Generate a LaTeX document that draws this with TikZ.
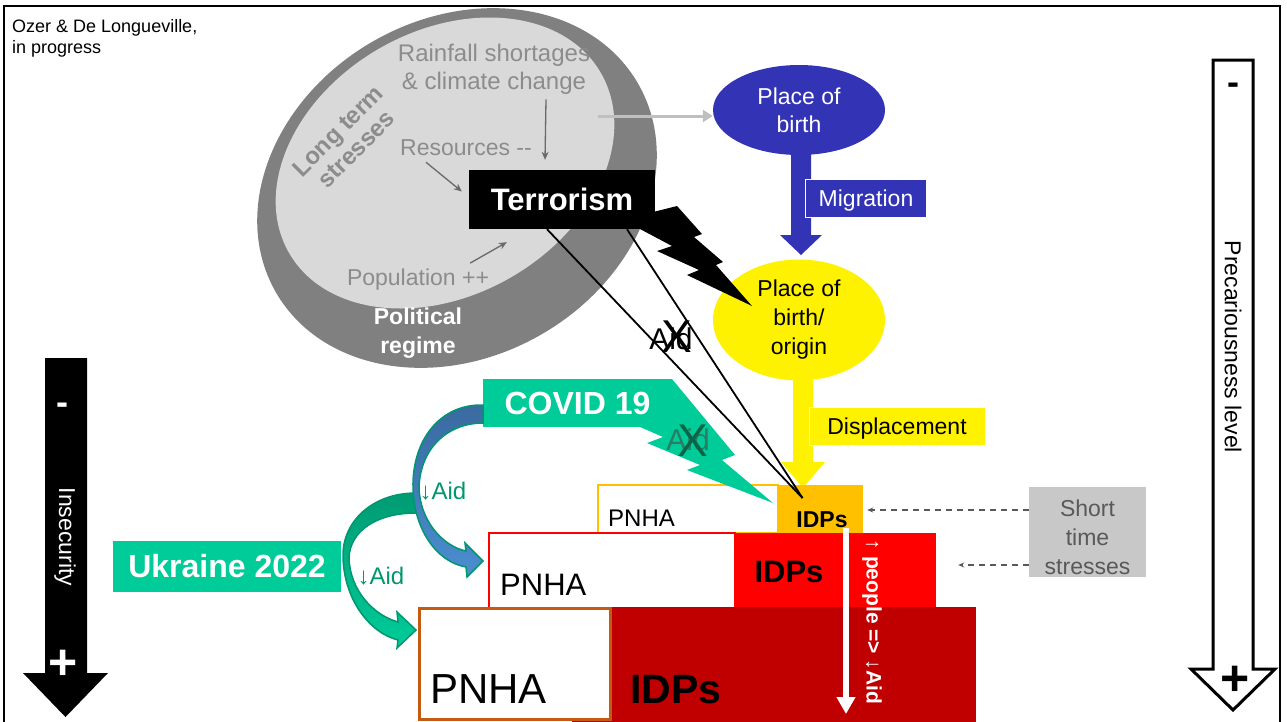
\documentclass[tikz,border=0pt]{standalone}
\usepackage{fontspec}
\setmainfont{Liberation Sans}
\usetikzlibrary{positioning,arrows.meta,shapes.geometric}

\definecolor{outergray}{RGB}{128,128,128}
\definecolor{innergray}{RGB}{217,217,217}
\definecolor{txtgray}{RGB}{140,140,140}
\definecolor{stressgray}{RGB}{105,105,105}
\definecolor{arrowgray}{RGB}{191,191,191}
\definecolor{birthblue}{RGB}{51,51,181}
\definecolor{idporange}{RGB}{255,192,0}
\definecolor{idpred}{RGB}{255,0,0}
\definecolor{idpdark}{RGB}{192,0,0}
\definecolor{pnhabrown}{RGB}{197,90,17}
\definecolor{covidgreen}{RGB}{0,204,153}
\definecolor{aidgreen}{RGB}{0,150,110}
\definecolor{aidtext}{RGB}{40,125,98}
\definecolor{crossgreen}{RGB}{10,100,72}
\definecolor{curveblue}{RGB}{74,142,208}
\definecolor{curvedblue}{RGB}{58,106,160}
\definecolor{curvedgreen}{RGB}{0,155,115}
\definecolor{shortgray}{RGB}{200,200,200}
\definecolor{shorttxt}{RGB}{89,89,89}

\begin{document}
\begin{tikzpicture}[
    x=1pt, y=-1pt,
    every node/.style={inner sep=0pt},
    txt/.style={font=\fontsize{23}{28}\selectfont, align=center},
    boldtxt/.style={font=\bfseries\fontsize{31}{35}\selectfont, text=white},
    stressarrow/.style={-{Stealth[length=8pt,width=7pt]}, stressgray, line width=1.3pt},
    dasharrow/.style={-{Stealth[length=6pt,width=5pt]}, shorttxt, line width=1.3pt, dash pattern=on 6pt off 5pt},
    curvearrow/.style={line width=1.5pt, draw=aidgreen},
    crossx/.style={font=\fontsize{46}{50}\selectfont}
]
\useasboundingbox (0,0) rectangle (1287,721);

% === Long term stresses ===
\fill[outergray, shift={(457,188)}, rotate=30] (0,0) ellipse (209 and 169);
\fill[innergray, shift={(445,163)}, rotate=30] (0,0) ellipse (180 and 132);

\node[txt, text=txtgray, font=\fontsize{24}{28}\selectfont] (rain) at (494,69) {Rainfall shortages\\\& climate change};
\node[txt, text=txtgray] (res) at (466,148) {Resources {-}{-}};
\node[txt, text=txtgray] (pop) at (418,280) {Population ++};
\node[txt, text=txtgray, font=\bfseries\fontsize{24}{26}\selectfont, rotate=45] (longterm) at (347,140) {Long term\\stresses};
\node[txt, text=white, font=\bfseries\fontsize{23}{29}\selectfont] (regime) at (418,333) {Political\\regime};

% Terrorism
\node[fill=black, boldtxt, minimum width=186pt, minimum height=59pt] (terror) at (562,199.5) {Terrorism};

\draw[stressarrow] ([xshift=52pt,yshift=-5pt]rain.south) -- ([xshift=-17pt,yshift=10pt]terror.north);
\draw[stressarrow] ([xshift=26pt,yshift=-6pt]res.south west) -- ([xshift=-7pt,yshift=8pt]terror.west);
\draw[stressarrow] ([xshift=-19pt,yshift=6pt]pop.north east) -- ([xshift=38pt,yshift=-13pt]terror.south west);

% === Migration ===
\fill[birthblue] (791,150) -- (791,235) -- (780,235) -- (801,255) -- (822,235) -- (811,235) -- (811,150) -- cycle;
\node[ellipse, fill=birthblue, minimum width=172pt, minimum height=90pt, txt, text=white] (birth) at (799,110) {Place of\\birth};
\node[fill=birthblue, draw=white, line width=0.8pt, txt, text=white, text depth=0pt, minimum width=121pt, minimum height=38pt] (migr) at (866,198) {Migration};

\coordinate (graystart) at (598,116);
\draw[-{Triangle[length=10pt,width=12pt]}, line width=3pt, arrowgray] (graystart) -- (graystart -| birth.west);

% === Displacement ===
\fill[yellow] (793,370) -- (793,462) -- (781,462) -- (803,488) -- (825,462) -- (813,462) -- (813,370) -- cycle;
\node[ellipse, fill=yellow, minimum width=172pt, minimum height=121pt, txt, font=\fontsize{23}{29}\selectfont] (origin) at (799,320) {Place of\\birth/\\origin};
\node[fill=yellow, draw=white, line width=0.8pt, txt, text depth=0pt, minimum width=176pt, minimum height=38pt] (displ) at (897,426) {Displacement};

% === PNHA / IDPs levels ===
\node[draw=idporange, line width=2pt, fill=white, minimum width=180pt, minimum height=48pt] (pnha1) at (688,509) {};
\node[anchor=base west, font=\fontsize{24}{28}\selectfont] (pnha1txt) at (608,526) {PNHA};
\node[fill=idporange, minimum width=85pt, minimum height=48pt] (idps1) at (820.5,509) {};
\node[anchor=base, font=\bfseries\fontsize{23}{27}\selectfont] (idps1txt) at (822,527) {IDPs};

\node[draw=idpred, line width=2pt, fill=white, minimum width=246pt, minimum height=75pt] (pnha2) at (612,570.5) {};
\node[anchor=base west, font=\fontsize{31}{35}\selectfont] (pnha2txt) at (500,595) {PNHA};
\node[fill=idpred, minimum width=201pt, minimum height=75pt] (idps2) at (835.5,570.5) {};
\node[anchor=base, font=\bfseries\fontsize{31}{35}\selectfont] (idps2txt) at (789,582) {IDPs};

\node[fill=idpdark, minimum width=404pt, minimum height=120pt, anchor=north west] (idps3) at (572,607) {};
\node[draw=pnhabrown, line width=2.5pt, fill=white, minimum width=191pt, minimum height=111pt, anchor=north west] (pnha3) at (418,607) {};
\node[anchor=base west, font=\fontsize{42}{46}\selectfont] (pnha3txt) at (430,703) {PNHA};
\node[anchor=base, font=\bfseries\fontsize{41}{45}\selectfont] (idps3txt) at (676,703) {IDPs};

% people up => aid down
\coordinate (aidend) at (846,714);
\draw[white, line width=6pt, -{Triangle[length=17pt,width=18pt]}] ([xshift=25.5pt,yshift=5pt]idps1.south) -- (aidend);
\node[rotate=-90, text=white, font=\bfseries\fontsize{21}{25}\selectfont] (peoplelbl) at (872,622) {↑ people => ↓Aid};

% === COVID 19 and Ukraine 2022 ===
\node[fill=covidgreen, boldtxt, font=\bfseries\fontsize{32}{36}\selectfont, minimum width=189pt, minimum height=48pt] (covid) at (577.5,403) {COVID 19};
\fill[covidgreen] (672,379) -- (735,455) -- (722,460) -- (773,503) -- (687,470) -- (700,465) -- (647,443) -- (663,437) -- (640,427) -- cycle;

\node[fill=covidgreen, boldtxt, font=\bfseries\fontsize{32}{36}\selectfont, minimum width=228pt, minimum height=51pt] (ukraine) at (227,566.5) {Ukraine 2022};

% curved aid arrows
\shade[curvearrow, top color=curvedgreen, bottom color=covidgreen]
    (416,493) .. controls (372,493) and (342,522) .. (343,557)
    .. controls (344,600) and (370,633) .. (398,640)
    -- (397,648) -- (416,630) -- (397,612) -- (398,622)
    .. controls (373,615) and (350,590) .. (349,558)
    .. controls (350,530) and (378,513) .. (416,513) -- cycle;
\shade[curvearrow, top color=curvedblue, bottom color=curveblue]
    (483,405) .. controls (440,404) and (412,440) .. (413,488)
    .. controls (414,530) and (437,562) .. (466,567)
    -- (467,577) -- (483,561) -- (465,543) -- (466,551)
    .. controls (442,546) and (420,520) .. (419,488)
    .. controls (420,448) and (448,423) .. (483,423) -- cycle;

\node[font=\fontsize{24}{28}\selectfont, text=aidgreen] (aidcovid) at (443,491) {↓Aid};
\node[font=\fontsize{24}{28}\selectfont, text=aidgreen] (aidukr) at (381,576) {↓Aid};

% === Terrorism effects ===
\fill[black] (653,212) -- (677,206) -- (702,234) -- (694,237) -- (723,262) -- (716,265) -- (752,306) -- (687,275) -- (699,270) -- (657,251) -- (672,246) -- (640,229) -- cycle;

\coordinate (idphit) at ([xshift=-18pt,yshift=11pt]idps1.center);
\draw[line width=1.8pt] ([xshift=-15pt]terror.south) -- (idphit);
\draw[line width=1.8pt] ([xshift=65pt]terror.south) -- (idphit);

\node[font=\fontsize{30}{34}\selectfont] (aidterror) at (671,339) {Aid};
\node[crossx] (aidterrorx) at (677,337) {X};
\node[font=\fontsize{30}{34}\selectfont, text=aidtext] (aidcovidx) at (688,440) {Aid};
\node[crossx, text=crossgreen] (aidcovidxx) at (693,441) {X};

% === Short time stresses ===
\node[fill=shortgray, minimum width=117pt, minimum height=90pt] (shortst) at (1087.5,532) {};
\node[txt, text=shorttxt, font=\fontsize{23}{29}\selectfont] (shortsttxt) at (1087.5,537) {Short\\time\\stresses};
\draw[dasharrow, shorten >=4pt] ([yshift=22pt]shortst.west) -- ([yshift=22pt]shortst.west -| idps1.east);
\draw[dasharrow, shorten >=22pt] ([yshift=-33pt]shortst.west) -- ([yshift=-33pt]shortst.west -| idps2.east);

% === Insecurity (left) ===
\fill[black] (45,358) -- (45,673) -- (23,673) -- (65.5,717) -- (108,673) -- (87,673) -- (87,358) -- cycle;
\node[text=white, font=\bfseries\fontsize{36}{40}\selectfont] (insminus) at (62,409) {-};
\node[rotate=-90, text=white, font=\fontsize{23}{27}\selectfont] (insec) at (65,537) {Insecurity};
\node[text=white, font=\bfseries\fontsize{50}{54}\selectfont] (insplus) at (63,665) {+};

% === Precariousness level (right) ===
\draw[line width=3pt, fill=white, line join=miter] (1213,60) -- (1213,669) -- (1191,669) -- (1233,710) -- (1275,669) -- (1253,669) -- (1253,60) -- cycle;
\node[font=\bfseries\fontsize{36}{40}\selectfont] (precminus) at (1233,89) {-};
\node[rotate=-90, font=\fontsize{23}{27}\selectfont] (precar) at (1233,347) {Precariousness level};
\node[font=\bfseries\fontsize{50}{54}\selectfont] (precplus) at (1235,681) {+};

% credit and frame
\node[anchor=north west, align=left, font=\fontsize{18}{21}\selectfont] (credit) at (12,19) {Ozer \& De Longueville,\\in progress};
\draw[line width=2.5pt] (4,6) rectangle (1280,740);

\end{tikzpicture}
\end{document}
